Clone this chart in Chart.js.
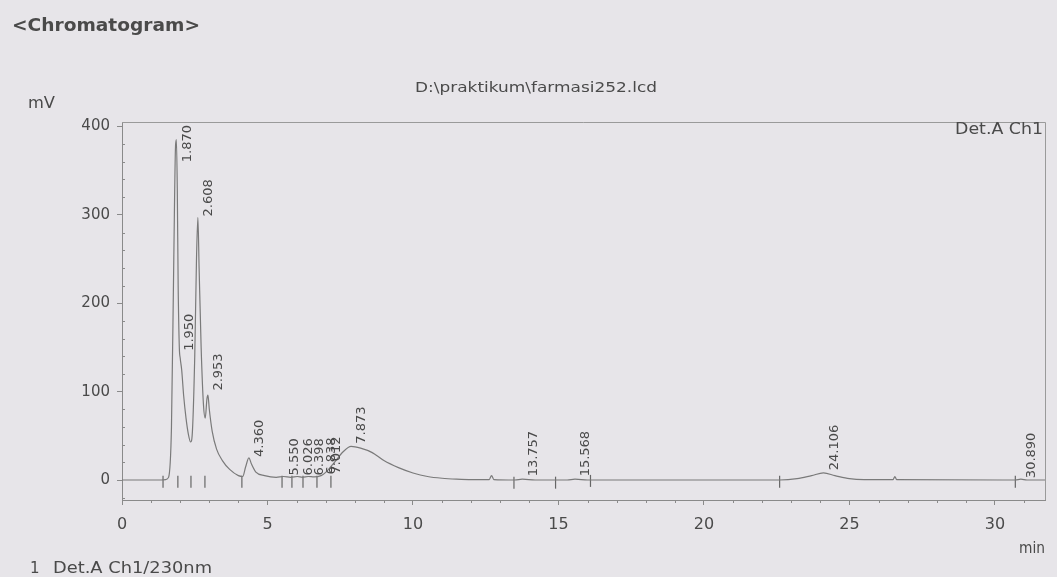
<!DOCTYPE html>
<html>
<head>
<meta charset="utf-8">
<script src="https://cdn.jsdelivr.net/npm/chart.js@4/dist/chart.umd.min.js"></script>
<style>
  html, body { margin: 0; padding: 0; background: #e7e5e9; }
  #wrap { width: 1057px; height: 577px; position: relative; }
</style>
</head>
<body>
<div id="wrap"><canvas id="chromChart" width="1057" height="577"></canvas></div>
<script>
// detector trace, time in min / signal in mV
var traceTimes = [0, 1.3, 1.5, 1.6, 1.7, 1.78, 1.84, 1.87, 1.9, 1.93, 1.97, 2.0, 2.05, 2.12, 2.2, 2.28, 2.36,
  2.42, 2.5, 2.56, 2.608, 2.65, 2.72, 2.8, 2.86, 2.92, 2.953, 3.0, 3.1, 3.25, 3.45, 3.7, 4.0, 4.15, 4.25, 4.36,
  4.45, 4.6, 4.9, 5.3, 5.55, 5.8, 6.03, 6.2, 6.4, 6.6, 6.84, 7.01, 7.3, 7.6, 7.873, 8.2, 8.6, 9.0, 9.5, 10.0,
  10.5, 11.0, 11.5, 12.0, 12.62, 12.7, 12.78, 13.5, 13.757, 14.2, 15.3, 15.568, 16.0, 22.6, 23.2, 23.7, 24.106,
  24.5, 25.0, 25.5, 26.5, 26.56, 26.62, 30.7, 30.89, 31.1, 31.72];
var traceValues = [0, 0, 0.5, 3, 60, 250, 378, 385, 330, 220, 150, 138, 125, 95, 70, 52, 43,
  55, 140, 250, 297, 240, 150, 85, 70, 92, 96, 80, 55, 35, 22, 12, 5, 4, 15, 25,
  18, 9, 5, 3, 4, 3, 4, 3, 4, 3.5, 5, 9, 20, 32, 38, 36, 31, 22, 14, 8,
  4, 2, 1, 0.5, 0.5, 5, 0.5, 0, 1, 0, 0, 1, 0, 0, 1.5, 5, 8,
  5, 1.5, 0.5, 0.5, 4, 0.5, 0, 1, 0, 0];

// integrated peaks
var peakTimes = [1.870, 1.950, 2.608, 2.953, 4.360, 5.550, 6.026, 6.398, 6.838, 7.012, 7.873, 13.757, 15.568, 24.106, 30.890];
var peakHeights = [385, 145, 297, 100, 25, 4, 4, 4, 5, 6, 40, 3, 3, 10, 1];
var peakLabels = ["1.870", "1.950", "2.608", "2.953", "4.360", "5.550", "6.026", "6.398", "6.838", "7.012", "7.873",
  "13.757", "15.568", "24.106", "30.890"];

// peak start / end marks on the baseline
var markTimes = [1.41, 1.92, 2.37, 2.85, 4.12, 5.5, 5.84, 6.22, 6.7, 7.18, 13.47, 14.9, 16.1, 22.6, 30.7];
var markLevels = [-2, -2, -2, -2, -2, -2, -2, -2, -2, -2, -3, -3, -1, -2, -2];

var xTickValues = [0, 5, 10, 15, 20, 25, 30];
var yTickValues = [0, 100, 200, 300, 400];

var textColor = "#4a4a4a";
var font = "'DejaVu Sans', 'Liberation Sans', sans-serif";

var tracePoints = [];
for (var i = 0; i < traceTimes.length; i++) {
  tracePoints.push({ x: traceTimes[i], y: traceValues[i] });
}
var markPoints = [];
for (var i = 0; i < markTimes.length; i++) {
  markPoints.push({ x: markTimes[i], y: markLevels[i] });
}

// text squeezed/stretched to the width it has on the scan
function fitText(ctx, text, x, y, w, f, align) {
  ctx.save();
  ctx.font = f;
  var m = ctx.measureText(text).width;
  var sx = w ? w / m : 1;
  if (!w) w = m;
  ctx.textBaseline = "middle";
  ctx.textAlign = "left";
  var left = align === "right" ? x - w : (align === "center" ? x - w / 2 : x);
  ctx.translate(left, y);
  ctx.scale(sx, 1);
  ctx.fillText(text, 0, 0);
  ctx.restore();
}

var decorPlugin = {
  id: "decor",
  beforeDraw: function (chart) {
    var ctx = chart.ctx;
    ctx.save();
    ctx.fillStyle = "#e7e5e9";
    ctx.fillRect(0, 0, chart.width, chart.height);
    ctx.restore();
  },
  afterDraw: function (chart) {
    var ctx = chart.ctx;
    var a = chart.chartArea;
    var xs = chart.scales.x, ys = chart.scales.y;

    // frame top + right
    ctx.save();
    ctx.strokeStyle = "#9a9a9a";
    ctx.lineWidth = 1;
    ctx.beginPath();
    ctx.moveTo(a.left, a.top + 0.5);
    ctx.lineTo(a.right + 0.5, a.top + 0.5);
    ctx.lineTo(a.right + 0.5, a.bottom);
    ctx.stroke();

    // minor ticks
    ctx.strokeStyle = "#8a8a8a";
    ctx.beginPath();
    for (var t = 1; t <= 31; t++) {
      if (t % 5 === 0) continue;
      var px = Math.round(xs.getPixelForValue(t)) + 0.5;
      ctx.moveTo(px, a.bottom);
      ctx.lineTo(px, a.bottom + 3);
    }
    for (var v = -20; v <= 400; v += 20) {
      if (v % 100 === 0) continue;
      var py = Math.round(ys.getPixelForValue(v)) + 0.5;
      ctx.moveTo(a.left, py);
      ctx.lineTo(a.left + 3, py);
    }
    ctx.stroke();
    ctx.restore();

    // peak labels, rotated
    ctx.save();
    ctx.fillStyle = textColor;
    ctx.font = "13px " + font;
    for (var i = 0; i < peakTimes.length; i++) {
      var lx = xs.getPixelForValue(peakTimes[i]) + 11;
      var w = ctx.measureText(peakLabels[i]).width;
      var by = ys.getPixelForValue(peakHeights[i]) - 1;
      if (by - w < a.top + 3) by = a.top + 3 + w;
      if (lx > a.right - 6) lx = a.right - 6;
      ctx.save();
      ctx.translate(lx, by);
      ctx.rotate(-Math.PI / 2);
      ctx.textAlign = "left";
      ctx.textBaseline = "middle";
      ctx.fillText(peakLabels[i], 0, 0);
      ctx.restore();
    }
    ctx.restore();

    // texts
    ctx.save();
    ctx.fillStyle = textColor;
    fitText(ctx, "<Chromatogram>", 12, 26, 188, "bold 18px " + font, "left");
    fitText(ctx, "D:\\praktikum\\farmasi252.lcd", 415, 88, 242, "14px " + font, "left");
    fitText(ctx, "mV", 28, 104, 27, "15px " + font, "left");
    fitText(ctx, "Det.A Ch1", 1043, 130, 88, "15px " + font, "right");
    fitText(ctx, "min", 1045, 549, 26, "15px " + font, "right");
    fitText(ctx, "1", 30, 569, 0, "15px " + font, "left");
    fitText(ctx, "Det.A Ch1/230nm", 53, 569, 159, "15px " + font, "left");
    ctx.restore();
  }
};

var ctx = document.getElementById("chromChart");
var chromChart = new Chart(ctx, {
  type: "line",
  data: {
    datasets: [
      {
        data: tracePoints,
        borderColor: "#7a7a7a",
        borderWidth: 1.2,
        pointRadius: 0,
        cubicInterpolationMode: "monotone",
        fill: false
      },
      {
        type: "scatter",
        data: markPoints,
        pointStyle: "line",
        rotation: 90,
        pointRadius: 6,
        borderColor: "#666666",
        borderWidth: 1.2,
        showLine: false
      }
    ]
  },
  options: {
    responsive: false,
    animation: false,
    events: [],
    layout: { padding: { left: 0, top: 122, right: 12, bottom: 0 } },
    plugins: { legend: { display: false }, tooltip: { enabled: false }, title: { display: false } },
    scales: {
      x: {
        type: "linear",
        min: 0,
        max: 31.72,
        afterBuildTicks: function (s) { s.ticks = xTickValues.map(function (v) { return { value: v }; }); },
        afterFit: function (s) { s.height = 77; },
        grid: { drawOnChartArea: false, drawTicks: true, tickLength: 5, color: "#8a8a8a" },
        border: { display: true, color: "#8a8a8a" },
        ticks: { color: textColor, font: { family: font, size: 16 }, padding: 10, maxRotation: 0 }
      },
      y: {
        type: "linear",
        min: -22.6,
        max: 405,
        afterBuildTicks: function (s) { s.ticks = yTickValues.map(function (v) { return { value: v }; }); },
        afterFit: function (s) { s.width = 122; },
        grid: { drawOnChartArea: false, drawTicks: true, tickLength: 5, color: "#8a8a8a" },
        border: { display: true, color: "#8a8a8a" },
        ticks: { color: textColor, font: { family: font, size: 15 }, padding: 7 }
      }
    }
  },
  plugins: [decorPlugin]
});
</script>
</body>
</html>
